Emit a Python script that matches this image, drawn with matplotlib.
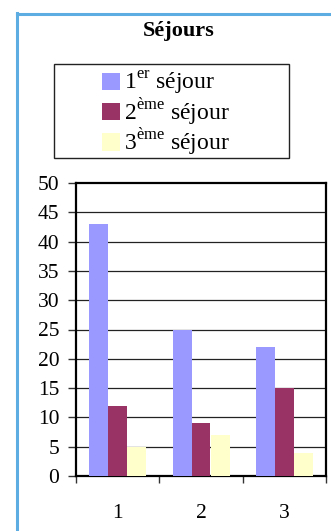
import matplotlib
matplotlib.use("Agg")
import matplotlib.pyplot as plt
from matplotlib.patches import Rectangle
from matplotlib.lines import Line2D
import numpy as np

plt.rcParams["font.family"] = ["Liberation Serif", "DejaVu Serif"]
plt.rcParams["mathtext.fontset"] = "custom"
plt.rcParams["mathtext.rm"] = "Liberation Serif"

categories = ["1", "2", "3"]
series_labels = ["1$^{\\mathrm{er}}$ séjour", "2$^{\\mathrm{ème}}$ séjour", "3$^{\\mathrm{ème}}$ séjour"]
series_values = [
    [43, 25, 22],
    [12, 9, 15],
    [5, 7, 4],
]
series_colors = ["#9999FF", "#993366", "#FFFFCC"]
y_ticks = [0, 5, 10, 15, 20, 25, 30, 35, 40, 45, 50]

W, H = 331, 531
fig = plt.figure(figsize=(W / 100, H / 100), dpi=100)
fig.patch.set_facecolor("white")

# outer frame (left and top edges visible)
fig.add_artist(Line2D([16.5 / W, 16.5 / W], [0, 1 - 13 / H], color="#5DADE2", lw=2.2))
fig.add_artist(Line2D([16.5 / W, 1], [1 - 13.5 / H, 1 - 13.5 / H], color="#5DADE2", lw=2.2))

ax = fig.add_axes([76 / W, 1 - 476 / H, 250 / W, 293 / H])
x = np.arange(1, len(categories) + 1)
bw = 0.228
for i, (vals, col, lab) in enumerate(zip(series_values, series_colors, series_labels)):
    ax.bar(x + (i - 1) * bw, vals, width=bw, color=col, label=lab, zorder=3, linewidth=0)

ax.set_xlim(0.5, 3.5)
ax.set_ylim(0, 50)
ax.set_yticks(y_ticks)
ax.set_yticklabels([str(t) for t in y_ticks], fontsize=15.5)
for t in y_ticks[1:-1]:
    ax.axhline(t, color="#222222", lw=0.9, zorder=1)

ax.set_xticks([0.5, 1.5, 2.5, 3.5])
ax.set_xticklabels([])
ax.set_xticks(x, minor=True)
ax.set_xticklabels(categories, minor=True, fontsize=15.5)
ax.tick_params(axis="x", which="major", direction="out", length=5, width=1, color="#333333")
ax.tick_params(axis="x", which="minor", length=0, pad=20)
ax.tick_params(axis="y", direction="out", length=6, width=1, color="#333333", pad=6)
for s in ax.spines.values():
    s.set_linewidth(1.6)
    s.set_color("black")

fig.text(179 / W, 1 - 31 / H, "Séjours", ha="center", va="center", fontsize=16, fontweight="bold")

# legend box
fig.add_artist(Rectangle((54 / W, 1 - 158 / H), 235 / W, 94 / H, transform=fig.transFigure,
                         fill=False, edgecolor="#222222", lw=1.0))
handles, labels = ax.get_legend_handles_labels()
fig.legend(handles, labels, loc="upper left", bbox_to_anchor=(102 / W, 1 - 70 / H),
           frameon=False, borderpad=0, borderaxespad=0, fontsize=17,
           handlelength=0.75, handleheight=0.75, handletextpad=0.2, labelspacing=-0.05)

fig.savefig("out.png", dpi=100)
